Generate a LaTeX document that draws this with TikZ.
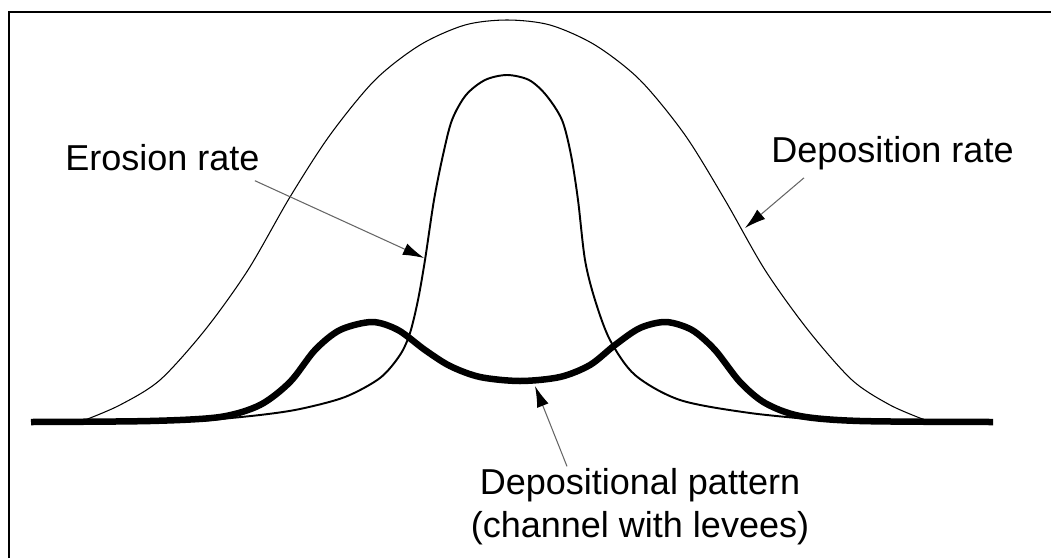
\documentclass[tikz,border=0pt]{standalone}
\usepackage{fontspec}
\setmainfont{Liberation Sans}
\usetikzlibrary{arrows.meta}

\begin{document}
\begin{tikzpicture}[x=0.02cm, y=-0.02cm,
    label/.style={inner sep=0pt, font=\fontsize{20.5}{24}\selectfont},
    pointer/.style={-{Latex[length=12pt,width=7pt,color=black]}, black!60, line width=0.6pt}]
    \useasboundingbox (0,0) rectangle (1051,558);
    % Frame
    \draw[line width=1.2pt] (9,558) -- (9,12) -- (1051,12);
    % Deposition rate (broad bell)
    \draw[line width=0.6pt, smooth]
        plot coordinates {
            (85,420) (120,405) (160,380) (205,330) (248,270) (290,197)
            (330,135) (375,80) (420,45) (465,25) (507,20) (550,25)
            (595,45) (640,80) (685,135) (725,200) (765,270) (808,330)
            (852,380) (890,405) (925,420)
        };
    % Erosion rate (narrow peak)
    \draw[line width=1.1pt, smooth]
        plot coordinates {
            (200,421) (260,415) (300,409) (345,397) (380,378) (400,355)
            (410,333) (418,300) (425,260) (434,200) (443,155) (452,120)
            (466,95) (485,80) (507,75) (529,80) (546,95) (562,120)
            (571,155) (578,200) (585,260) (595,300) (610,340) (635,375)
            (680,400) (750,413) (830,421)
        };
    % Depositional pattern (channel with levees)
    \draw[line width=3.7pt, smooth]
        plot coordinates {
            (31,422) (150,421) (220,417) (260,405) (290,382) (315,350)
            (340,330) (372,322) (398,330) (425,350) (450,366) (480,377)
            (520,381) (560,377) (590,365) (615,345) (640,328) (666,322)
            (692,330) (715,350) (740,382) (765,403) (800,416) (860,421)
            (993,422)
        };
    % Labels
    \node[label, anchor=base west] (erosion) at (65,170) {Erosion rate};
    \node[label, anchor=base west] (deposition) at (771,162) {Deposition rate};
    \node[label, anchor=base, align=center] (pattern) at (640,537)
        {Depositional pattern\\(channel with levees)};
    % Pointers
    \coordinate (erotip) at (424,258);
    \coordinate (deptip) at (745,228);
    \coordinate (pattip) at (535,386);
    \draw[pointer] ([shift={(-5,10)}]erosion.south east) -- (erotip);
    \draw[pointer] ([shift={(33,8)}]deposition.south west) -- (deptip);
    \draw[pointer] ([shift={(-73,-2)}]pattern.north) -- (pattip);
\end{tikzpicture}
\end{document}
